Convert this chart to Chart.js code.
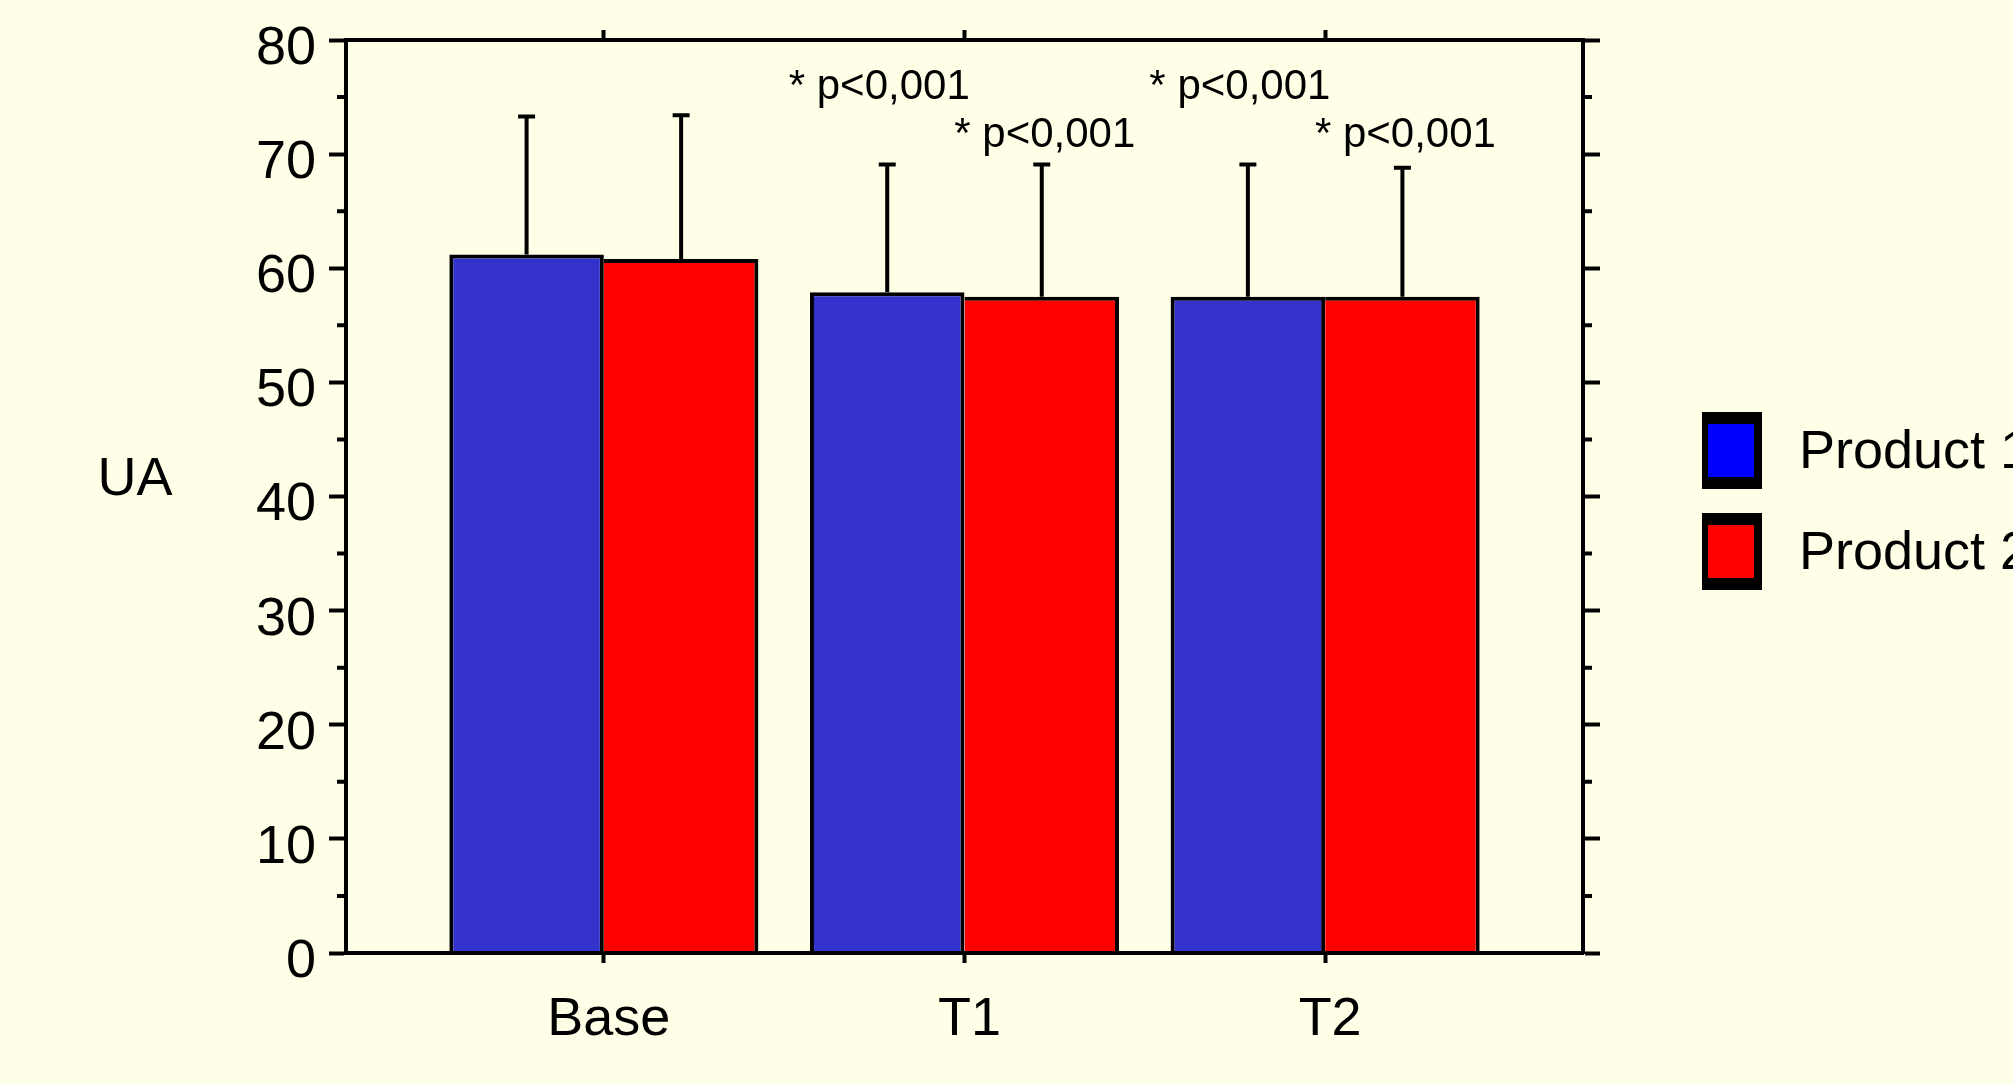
<!DOCTYPE html>
<html lang="en">
<head>
  <meta charset="UTF-8">
  <title>UA by product</title>
  <script src="https://cdn.jsdelivr.net/npm/chart.js"></script>
  <style>
    html, body { margin: 0; padding: 0; background: #ffffe8; }
    #myChart { display: block; }
  </style>
</head>
<body>
  <canvas id="myChart" width="2013" height="1084"></canvas>

  <script>
    // Data
    const categories = ['Base', 'T1', 'T2'];
    const seriesNames = ['Product 1', 'Product 2'];
    const product1Mean = [61.2, 57.9, 57.5];
    const product1Sd = [12.1, 11.2, 11.6];
    const product2Mean = [60.8, 57.5, 57.5];
    const product2Sd = [12.6, 11.6, 11.3];
    const product1Sig = ['', '* p<0,001', '* p<0,001'];
    const product2Sig = ['', '* p<0,001', '* p<0,001'];
    const yTitle = 'UA';

    const ink = '#000';
    const bg = '#ffffe8';
    const family = "'Liberation Sans', Arial, sans-serif";
    const bigFont = { family: family, size: 54 };

    // x range leaves room either side of the first and last group
    const xMin = -0.715;
    const xMax = categories.length - 1 + 0.715;

    function categoryTicks(scale) {
      scale.ticks = categories.map((c, i) => ({ value: i }));
    }

    // keep label overhang from pushing the plot area around
    function noPadding(s) {
      s.paddingTop = 0;
      s.paddingBottom = 0;
      s.paddingLeft = 0;
      s.paddingRight = 0;
    }

    const background = {
      id: 'background',
      beforeDraw(chart) {
        const c = chart.ctx;
        c.save();
        c.fillStyle = bg;
        c.fillRect(0, 0, chart.width, chart.height);
        c.restore();
      }
    };

    // short ticks halfway between the labelled ones, both sides
    const minorTicks = {
      id: 'minorTicks',
      afterDraw(chart) {
        const c = chart.ctx;
        const area = chart.chartArea;
        const y = chart.scales.y;
        const ticks = y.ticks.map(t => t.value);
        c.save();
        c.strokeStyle = ink;
        c.lineWidth = 4;
        for (let i = 0; i < ticks.length - 1; i++) {
          const py = y.getPixelForValue((ticks[i] + ticks[i + 1]) / 2);
          c.beginPath();
          c.moveTo(area.left - 9, py);
          c.lineTo(area.left, py);
          c.moveTo(area.right, py);
          c.lineTo(area.right + 9, py);
          c.stroke();
        }
        c.restore();
      }
    };

    // upper error bars (mean + SD)
    const errorBars = {
      id: 'errorBars',
      afterDatasetsDraw(chart) {
        const c = chart.ctx;
        const y = chart.scales.y;
        c.save();
        c.strokeStyle = ink;
        c.lineWidth = 4;
        chart.data.datasets.forEach((ds, i) => {
          chart.getDatasetMeta(i).data.forEach((bar, j) => {
            const top = y.getPixelForValue(ds.data[j].y + ds.sd[j]);
            c.beginPath();
            c.moveTo(bar.x, bar.y);
            c.lineTo(bar.x, top);
            c.moveTo(bar.x - 8.5, top);
            c.lineTo(bar.x + 8.5, top);
            c.stroke();
          });
        });
        c.restore();
      }
    };

    // significance notes, staggered in two rows
    const sigLabels = {
      id: 'sigLabels',
      afterDatasetsDraw(chart) {
        const c = chart.ctx;
        const y = chart.scales.y;
        const rows = [74.8, 70.6];
        const shift = [-8, 3];
        c.save();
        c.fillStyle = ink;
        c.font = '42px ' + family;
        c.textAlign = 'center';
        c.textBaseline = 'alphabetic';
        chart.data.datasets.forEach((ds, i) => {
          chart.getDatasetMeta(i).data.forEach((bar, j) => {
            if (!ds.sig[j]) return;
            c.fillText(ds.sig[j], bar.x + shift[i], y.getPixelForValue(rows[i]));
          });
        });
        c.restore();
      }
    };

    // horizontal y title and legend drawn beside the plot
    const sideText = {
      id: 'sideText',
      afterDraw(chart) {
        const c = chart.ctx;
        const area = chart.chartArea;
        c.save();
        c.fillStyle = ink;
        c.font = '54px ' + family;
        c.textBaseline = 'middle';
        c.textAlign = 'center';
        c.fillText(yTitle, area.left - 211, (area.top + area.bottom) / 2 - 16);

        c.textAlign = 'left';
        chart.data.datasets.forEach((ds, i) => {
          const x0 = area.right + 119;
          const y0 = area.top + 372 + i * 101;
          c.fillStyle = ink;
          c.fillRect(x0, y0, 60, 77);
          c.fillStyle = ds.legendColor;
          c.fillRect(x0 + 6, y0 + 12, 60 - 14, 77 - 24);
          c.fillStyle = ink;
          c.fillText(ds.label, x0 + 97, y0 + 41);
        });
        c.restore();
      }
    };

    const edge = { width: 4, color: ink, z: 1 };

    const ctx = document.getElementById('myChart').getContext('2d');
    new Chart(ctx, {
      type: 'bar',
      data: {
        datasets: [
          {
            label: seriesNames[0],
            data: product1Mean.map((v, i) => ({ x: i, y: v })),
            sd: product1Sd,
            sig: product1Sig,
            backgroundColor: '#3333cc',
            legendColor: '#0000ff',
            borderColor: ink,
            borderWidth: { top: 4, left: 4, right: 4, bottom: 0 },
          },
          {
            label: seriesNames[1],
            data: product2Mean.map((v, i) => ({ x: i, y: v })),
            sd: product2Sd,
            sig: product2Sig,
            backgroundColor: '#ff0000',
            legendColor: '#ff0000',
            borderColor: ink,
            borderWidth: { top: 4, left: 0, right: 4, bottom: 0 },
          },
        ],
      },
      options: {
        responsive: false,
        devicePixelRatio: 1,
        animation: false,
        categoryPercentage: 0.857,
        barPercentage: 1,
        layout: { padding: { left: 0, right: 413, top: 30, bottom: 0 } },
        plugins: {
          legend: { display: false },
          tooltip: { enabled: false },
        },
        scales: {
          x: {
            type: 'linear',
            position: 'bottom',
            min: xMin,
            max: xMax,
            offset: false,
            afterBuildTicks: categoryTicks,
            afterFit: s => { s.height = 131; noPadding(s); },
            ticks: {
              callback: v => categories[v],
              font: bigFont,
              color: ink,
              padding: 25,
              labelOffset: 5,
              autoSkip: false,
              maxRotation: 0,
            },
            grid: { offset: false, drawOnChartArea: false, tickLength: 10, tickWidth: 4, tickColor: ink },
            border: edge,
          },
          x2: {
            type: 'linear',
            position: 'top',
            min: xMin,
            max: xMax,
            offset: false,
            afterBuildTicks: categoryTicks,
            afterFit: s => { s.height = 10; noPadding(s); },
            ticks: { display: false },
            grid: { offset: false, drawOnChartArea: false, tickLength: 10, tickWidth: 4, tickColor: ink },
            border: edge,
          },
          y: {
            position: 'left',
            min: 0,
            max: 80,
            afterFit: s => { s.width = 346; noPadding(s); },
            ticks: { stepSize: 10, font: bigFont, color: ink, padding: 13, labelOffset: 9 },
            grid: { drawOnChartArea: false, tickLength: 17, tickWidth: 4, tickColor: ink },
            border: edge,
          },
          y2: {
            position: 'right',
            min: 0,
            max: 80,
            afterFit: s => { s.width = 17; noPadding(s); },
            ticks: { stepSize: 10, display: false },
            grid: { drawOnChartArea: false, tickLength: 17, tickWidth: 4, tickColor: ink },
            border: edge,
          },
        },
      },
      plugins: [background, minorTicks, errorBars, sigLabels, sideText],
    });
  </script>
</body>
</html>
